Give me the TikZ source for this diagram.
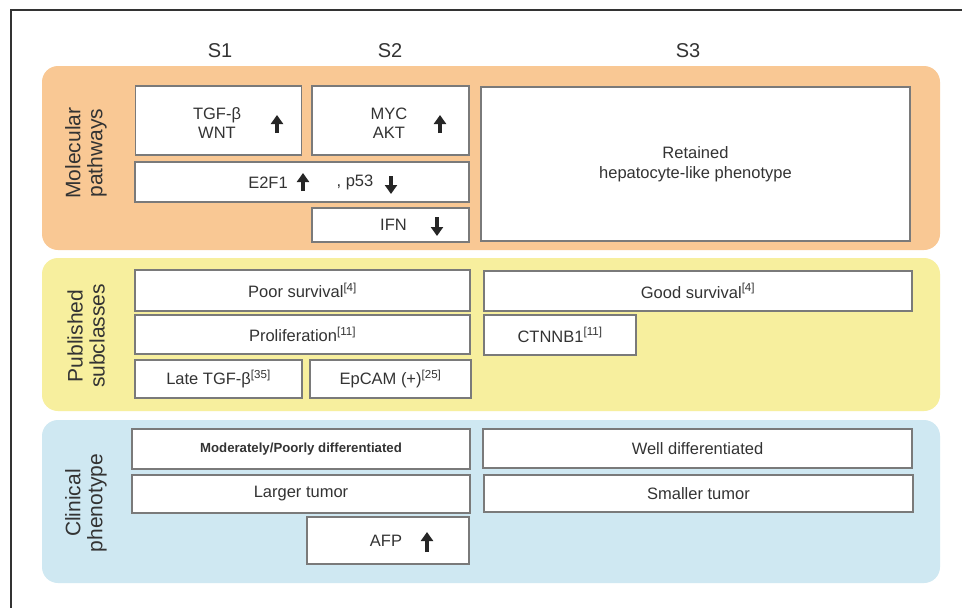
\documentclass[tikz,border=0pt]{standalone}
\usepackage{fontspec}
\setmainfont{Liberation Sans}
\usepackage{tikz}
\usetikzlibrary{arrows.meta}
\usepackage{xcolor}
\definecolor{pathorange}{HTML}{F9C894}
\definecolor{subyellow}{HTML}{F7EF9E}
\definecolor{clinblue}{HTML}{CFE8F2}
\definecolor{boxgray}{HTML}{7A7A7A}
\definecolor{txtgray}{HTML}{333333}

\begin{document}
\begin{tikzpicture}[x=1pt, y=-1pt,
    panel/.style={rounded corners=16pt},
    cell/.style 2 args={draw=boxgray, line width=1.1pt, fill=white, text=txtgray,
        minimum width=#1pt, minimum height=#2pt, inner sep=0pt, align=center,
        font=\fontsize{16.5}{20}\selectfont},
    word/.style={text=txtgray, inner sep=0pt, align=center, font=\fontsize{16.5}{19}\selectfont},
    side/.style={rotate=90, align=center, text=txtgray, font=\fontsize{21}{22}\selectfont},
    head/.style={text=txtgray, font=\fontsize{20}{24}\selectfont},
    arr/.style={line width=3.6pt, black!85, -{Triangle[width=12pt,length=9pt]}}]
    \useasboundingbox (0,0) rectangle (962,608);
    \fill[white] (0,0) rectangle (962,608);
    \draw[txtgray, line width=1.4pt] (962,10) -- (11,10) -- (11,608);
    % subclass headers
    \node[head] (s1) at (220,51) {S1};
    \node[head] (s2) at (390,51) {S2};
    \node[head] (s3) at (688,51) {S3};
    % Molecular pathways
    \fill[pathorange, panel] (42,66) rectangle (940,250);
    \node[side] (mol) at (86,153) {Molecular\\pathways};
    \node[cell={166}{69}] (tgf) at (218.5,120.5) {};
    \node[word] (tgft) at (217,123.5) {TGF-β\\WNT};
    \node[cell={157}{69}] (myc) at (390.5,120.5) {};
    \node[word] (myct) at (389,123.5) {MYC\\AKT};
    \node[cell={334}{40}] (e2f) at (302,182) {};
    \node[word] (e2ft) at (268,182.5) {E2F1};
    \node[word] (p53t) at (355,182.5) {, p53};
    \node[cell={157}{34}] (ifn) at (390.5,225) {\hspace*{6pt}IFN};
    \node[cell={429}{154}] (ret) at (695.5,164) {Retained\\hepatocyte-like phenotype};
    \draw[arr] (277,133) -- (277,115);
    \draw[arr] (440,133) -- (440,115);
    \draw[arr] (303,191) -- (303,173);
    \draw[arr] (391,176) -- (391,194);
    \draw[arr] (437,217) -- (437,236);
    % Published subclasses
    \fill[subyellow, panel] (42,258) rectangle (940,411);
    \node[side] (pub) at (86,336) {Published\\subclasses};
    \node[cell={335}{41}] (poor) at (302.5,290.5) {Poor survival\textsuperscript{[4]}};
    \node[cell={335}{39}] (prolif) at (302.5,334.5) {Proliferation\textsuperscript{[11]}};
    \node[cell={167}{38}] (late) at (218.5,379) {Late TGF-β\textsuperscript{[35]}};
    \node[cell={161}{38}] (epcam) at (390.5,379) {EpCAM (+)\textsuperscript{[25]}};
    \node[cell={428}{40}] (good) at (698,291) {Good survival\textsuperscript{[4]}};
    \node[cell={152}{40}] (ctnnb) at (560,335) {CTNNB1\textsuperscript{[11]}};
    % Clinical phenotype
    \fill[clinblue, panel] (42,420) rectangle (940,583);
    \node[side] (clin) at (86,503) {Clinical\\phenotype};
    \node[cell={338}{40}, font=\fontsize{13.2}{16}\selectfont\bfseries] (moder) at (301,449) {Moderately/Poorly differentiated};
    \node[cell={338}{38}] (larger) at (301,494) {Larger tumor};
    \node[cell={162}{47}] (afp) at (388,540.5) {};
    \node[word] (afpt) at (386,540.5) {AFP};
    \node[cell={429}{39}] (well) at (697.5,448.5) {Well differentiated};
    \node[cell={429}{37}] (smaller) at (698.5,493.5) {Smaller tumor};
    \draw[arr] (427,552) -- (427,532);
\end{tikzpicture}
\end{document}
